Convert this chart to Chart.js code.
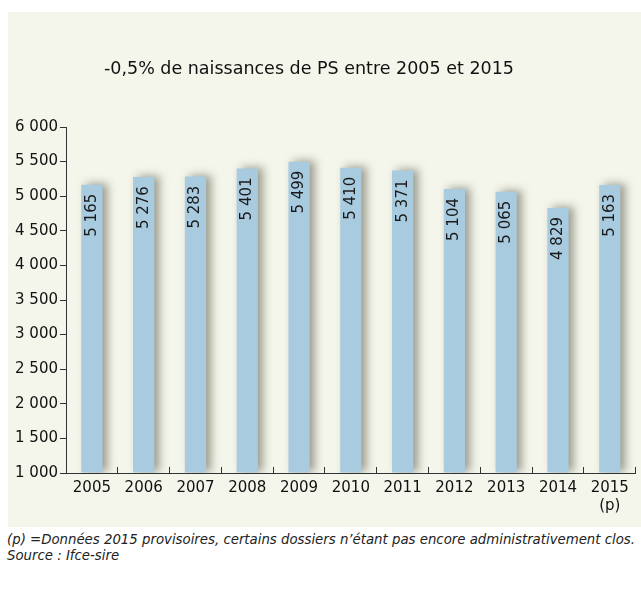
<!DOCTYPE html>
<html>
<head>
<meta charset="utf-8">
<script src="https://cdn.jsdelivr.net/npm/chart.js@4.4.1/dist/chart.umd.min.js"></script>
<style>
  html, body { margin: 0; padding: 0; background: #ffffff; }
  body { width: 641px; height: 590px; position: relative; overflow: hidden; }
  #panel { position: absolute; left: 8px; top: 12px; width: 633px; height: 515px; background: #f4f5eb; }
  #chartTitle { position: absolute; left: 104px; top: 58px; font-family: "DejaVu Sans", sans-serif; font-size: 17.5px; color: #111; white-space: nowrap; }
  #note { position: absolute; left: 7px; top: 532px; font-family: "DejaVu Sans", sans-serif; font-style: italic; font-size: 13.3px; line-height: 16px; color: #222; white-space: nowrap; }
</style>
</head>
<body>
<div id="panel"><canvas id="barChart" width="633" height="515"></canvas></div>
<div id="chartTitle">-0,5% de naissances de PS entre 2005 et 2015</div>
<div id="note">(p) =Données 2015 provisoires, certains dossiers n’étant pas encore administrativement clos.<br>Source : Ifce-sire</div>
<script>
const years = ["2005", "2006", "2007", "2008", "2009", "2010", "2011", "2012", "2013", "2014", ["2015", "(p)"]];
const births = [5165, 5276, 5283, 5401, 5499, 5410, 5371, 5104, 5065, 4829, 5163];
const yTicks = [1000, 1500, 2000, 2500, 3000, 3500, 4000, 4500, 5000, 5500, 6000];

const FONT = "'DejaVu Sans', sans-serif";

function fmt(n) {
    return String(n).replace(/\B(?=(\d{3})+(?!\d))/g, " ");
}

// soft grey shadow to the right of each bar
const barShadow = {
    id: "barShadow",
    beforeDatasetsDraw(chart) {
        const c = chart.ctx;
        c.save();
        c.shadowColor = "rgba(70, 70, 50, 0.5)";
        c.shadowBlur = 8;
        c.shadowOffsetX = 5;
        c.shadowOffsetY = -1;
    },
    afterDatasetsDraw(chart) {
        chart.ctx.restore();
    }
};

// rotated value labels inside the bars
const barLabels = {
    id: "barLabels",
    afterDraw(chart) {
        const c = chart.ctx;
        const meta = chart.getDatasetMeta(0);
        c.save();
        c.font = "15px " + FONT;
        c.fillStyle = "#1a1a1a";
        c.textAlign = "right";
        c.textBaseline = "middle";
        meta.data.forEach((bar, i) => {
            c.save();
            c.translate(bar.x, bar.y + 9);
            c.rotate(-Math.PI / 2);
            c.fillText(fmt(births[i]), 0, 0);
            c.restore();
        });
        c.restore();
    }
};

new Chart(document.getElementById("barChart"), {
    type: "bar",
    data: {
        labels: years,
        datasets: [{
            data: births,
            base: 1000,
            backgroundColor: "#a8cbe0",
            borderWidth: 0,
            barPercentage: 0.41,
            categoryPercentage: 1
        }]
    },
    options: {
        responsive: false,
        animation: false,
        events: [],
        layout: { padding: { left: 0, right: 3, top: 115, bottom: 14 } },
        plugins: {
            legend: { display: false },
            tooltip: { enabled: false },
            title: { display: false }
        },
        scales: {
            x: {
                offset: true,
                grid: {
                    offset: true,
                    drawOnChartArea: false,
                    tickLength: -6,
                    color: "#333"
                },
                border: { color: "#333", width: 1 },
                ticks: {
                    color: "#111",
                    padding: 12,
                    maxRotation: 0,
                    autoSkip: false,
                    font: { family: FONT, size: 15 }
                },
                afterFit(scale) { scale.height = 40; }
            },
            y: {
                min: 1000,
                max: 6000,
                grid: {
                    drawOnChartArea: false,
                    tickLength: 6,
                    color: "#333"
                },
                border: { color: "#333", width: 1 },
                afterBuildTicks(scale) {
                    scale.ticks = yTicks.map(v => ({ value: v }));
                },
                ticks: {
                    color: "#111",
                    padding: 2,
                    font: { family: FONT, size: 15 },
                    callback: v => fmt(v)
                },
                afterFit(scale) { scale.width = 58; }
            }
        }
    },
    plugins: [barShadow, barLabels]
});
</script>
</body>
</html>
